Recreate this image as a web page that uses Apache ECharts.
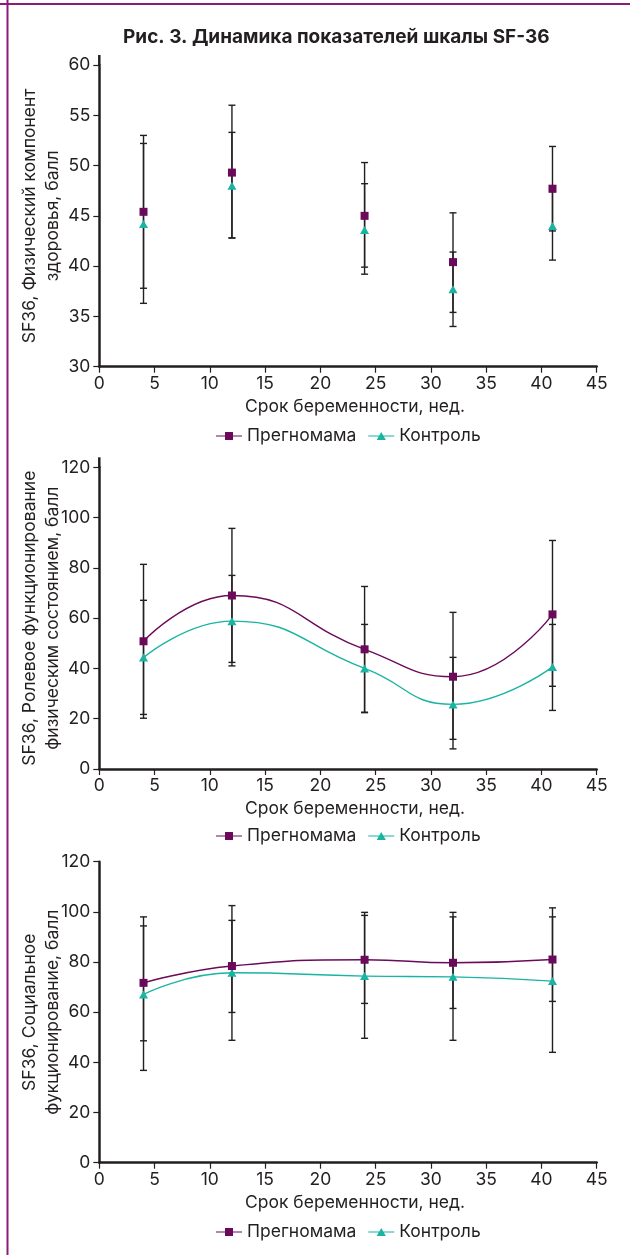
<!DOCTYPE html>
<html>
<head>
<meta charset="utf-8">
<script src="https://cdn.jsdelivr.net/npm/echarts@6/dist/echarts.min.js"></script>
<style>
html,body{margin:0;padding:0;background:#fff;}
#c{width:630px;height:1255px;}
</style>
</head>
<body>
<div id="c"></div>
<script>
// ---- data ----
const weeks = [4, 12, 24, 32, 41];
const xTicks = [0, 5, 10, 15, 20, 25, 30, 35, 40, 45];
const seriesNames = ['Прегномама', 'Контроль'];

// Chart 1: physical component
const pcPreg = [45.4, 49.3, 45.0, 40.4, 47.7];
const pcPregLow = [37.8, 42.8, 39.9, 35.4, 43.5];
const pcPregHigh = [53.0, 56.0, 50.3, 45.3, 51.9];
const pcCtrl = [44.2, 48.0, 43.6, 37.7, 44.0];
const pcCtrlLow = [36.3, 42.8, 39.2, 34.0, 40.6];
const pcCtrlHigh = [52.2, 53.3, 48.2, 41.4, 47.4];

// Chart 2: role physical
const rpPreg = [50.8, 69.0, 47.6, 36.7, 61.5];
const rpPregLow = [20.2, 42.4, 22.6, 11.8, 32.9];
const rpPregHigh = [81.4, 95.7, 72.6, 62.3, 90.9];
const rpCtrl = [44.3, 58.8, 40.0, 25.7, 40.6];
const rpCtrlLow = [21.7, 41.0, 22.4, 8.0, 23.3];
const rpCtrlHigh = [67.1, 77.0, 57.5, 44.4, 57.5];

// Chart 3: social functioning
const sfPreg = [71.7, 78.4, 80.9, 79.7, 81.0];
const sfPregLow = [48.6, 48.8, 49.6, 48.8, 44.0];
const sfPregHigh = [98.0, 102.5, 99.8, 99.8, 101.6];
const sfCtrl = [67.1, 75.7, 74.4, 74.1, 72.4];
const sfCtrlLow = [36.8, 59.9, 63.5, 61.5, 64.3];
const sfCtrlHigh = [94.4, 96.6, 98.6, 98.0, 98.0];

const titleText = 'Рис. 3. Динамика показателей шкалы SF-36';
const xName = 'Срок беременности, нед.';
const yNames = [
  'SF36, Физический компонент\nздоровья, балл',
  'SF36, Ролевое функционирование\nфизическим состоянием, балл',
  'SF36, Социальное\nфукционирование, балл'
];

// ---- style ----
const INK = '#231f20';
const PURPLE = '#6b0a5b';
const TEAL = '#19b4a2';
const FONT = 'Inter, "Liberation Sans", Arial, sans-serif';
const FS = 17.5;

const sqIcon = 'path://M0,4.4H26V5.6H0Z M9,1H17V9H9Z';
const triIcon = 'path://M0,4.4H26V5.6H0Z M13,1L17.6,9H8.4Z';

const grids = [
  {left: 99.3, top: 65, width: 497.4, height: 301.7, outerBoundsMode: 'none', containLabel: false},
  {left: 99.3, top: 467.3, width: 497.4, height: 301.7, outerBoundsMode: 'none', containLabel: false},
  {left: 99.3, top: 861.7, width: 497.4, height: 301, outerBoundsMode: 'none', containLabel: false}
];
const yRanges = [[30, 60, 5], [0, 120, 20], [0, 120, 20]];
const axisOverhang = [10, 10, 0];

function zip(xs, a) { return xs.map((x, i) => [x, a[i]]); }
function zip3(xs, a, b) { return xs.map((x, i) => [x, a[i], b[i]]); }

const xAxes = grids.map((g, i) => ({
  type: 'value', gridIndex: i, min: xTicks[0], max: xTicks[xTicks.length - 1], interval: 5,
  name: xName, nameLocation: 'middle', nameGap: 31, nameMoveOverlap: false,
  nameTextStyle: {fontFamily: FONT, fontSize: FS, color: INK, padding: [0, 0, 0, 14]},
  axisLine: {lineStyle: {color: INK, width: 2.5}},
  axisTick: {inside: false, length: 6, lineStyle: {color: INK, width: 1.2}},
  axisLabel: {fontFamily: FONT, fontSize: FS, color: INK, margin: 8},
  splitLine: {show: false}
}));
const yAxes = grids.map((g, i) => ({
  type: 'value', gridIndex: i, min: yRanges[i][0], max: yRanges[i][1], interval: yRanges[i][2],
  name: yNames[i], nameLocation: 'middle', nameGap: 35, nameRotate: 90, nameMoveOverlap: false,
  nameTextStyle: {fontFamily: FONT, fontSize: FS, color: INK, lineHeight: 23, align: 'center'},
  axisLine: {lineStyle: {color: INK, width: 2.5}},
  axisTick: {inside: false, length: 6, lineStyle: {color: INK, width: 1.2}},
  axisLabel: {fontFamily: FONT, fontSize: FS, color: INK, margin: 9},
  splitLine: {show: false}
}));

function errRender(params, api) {
  const x = api.value(0);
  const p1 = api.coord([x, api.value(1)]);
  const p2 = api.coord([x, api.value(2)]);
  const hw = 3.5;
  const st = {stroke: INK, lineWidth: 1.4};
  return {type: 'group', children: [
    {type: 'line', shape: {x1: p1[0], y1: p1[1], x2: p2[0], y2: p2[1]}, style: st},
    {type: 'line', shape: {x1: p1[0] - hw, y1: p1[1], x2: p1[0] + hw, y2: p1[1]}, style: st},
    {type: 'line', shape: {x1: p2[0] - hw, y1: p2[1], x2: p2[0] + hw, y2: p2[1]}, style: st}
  ]};
}

const sets = [
  {p: pcPreg, pl: pcPregLow, ph: pcPregHigh, c: pcCtrl, cl: pcCtrlLow, ch: pcCtrlHigh, line: false},
  {p: rpPreg, pl: rpPregLow, ph: rpPregHigh, c: rpCtrl, cl: rpCtrlLow, ch: rpCtrlHigh, line: true},
  {p: sfPreg, pl: sfPregLow, ph: sfPregHigh, c: sfCtrl, cl: sfCtrlLow, ch: sfCtrlHigh, line: true}
];

const series = [];
sets.forEach((s, i) => {
  series.push({type: 'custom', name: 'err-p' + i, xAxisIndex: i, yAxisIndex: i, z: 1,
    renderItem: errRender, encode: {x: 0, y: [1, 2]}, data: zip3(weeks, s.pl, s.ph), silent: true});
  series.push({type: 'custom', name: 'err-c' + i, xAxisIndex: i, yAxisIndex: i, z: 1,
    renderItem: errRender, encode: {x: 0, y: [1, 2]}, data: zip3(weeks, s.cl, s.ch), silent: true});
  const common = {xAxisIndex: i, yAxisIndex: i, z: 3, animation: false};
  if (s.line) {
    series.push(Object.assign({type: 'line', name: seriesNames[1], data: zip(weeks, s.c), smooth: 0.5,
      symbol: 'triangle', symbolSize: [9, 8], itemStyle: {color: TEAL}, lineStyle: {color: TEAL, width: 1.4}}, common));
    series.push(Object.assign({type: 'line', name: seriesNames[0], data: zip(weeks, s.p), smooth: 0.5,
      symbol: 'rect', symbolSize: 8, itemStyle: {color: PURPLE}, lineStyle: {color: PURPLE, width: 1.4}}, common));
  } else {
    series.push(Object.assign({type: 'scatter', name: seriesNames[1], data: zip(weeks, s.c),
      symbol: 'triangle', symbolSize: [9, 8], itemStyle: {color: TEAL, opacity: 1}}, common));
    series.push(Object.assign({type: 'scatter', name: seriesNames[0], data: zip(weeks, s.p),
      symbol: 'rect', symbolSize: 8, itemStyle: {color: PURPLE, opacity: 1}}, common));
  }
});

const legendTops = [422, 822, 1218];
const legends = legendTops.map(t => ({
  top: t, left: 211, itemWidth: 26, itemHeight: 8, itemGap: 12, selectedMode: false,
  textStyle: {fontFamily: FONT, fontSize: FS, color: INK},
  data: [{name: seriesNames[0], icon: sqIcon}, {name: seriesNames[1], icon: triIcon}]
}));

// y-axis lines that continue a little above the top tick
const overhangs = grids.map((g, i) => ({
  type: 'line', z: 10,
  shape: {x1: g.left, y1: g.top - axisOverhang[i], x2: g.left, y2: g.top},
  style: {stroke: INK, lineWidth: 2.5},
  invisible: axisOverhang[i] === 0
}));

const chart = echarts.init(document.getElementById('c'), null, {renderer: 'canvas'});
chart.setOption({
  backgroundColor: '#fff',
  animation: false,
  title: {text: titleText, left: 118, top: 23,
    textStyle: {fontFamily: FONT, fontSize: 19, fontWeight: 'bold', color: INK}},
  grid: grids,
  xAxis: xAxes,
  yAxis: yAxes,
  legend: legends,
  series: series,
  graphic: [
    {type: 'line', shape: {x1: 0, y1: 4, x2: 630, y2: 4}, style: {stroke: '#8a1c7c', lineWidth: 2}},
    {type: 'line', shape: {x1: 7.5, y1: 0, x2: 7.5, y2: 1255}, style: {stroke: '#8a1c7c', lineWidth: 2}}
  ].concat(overhangs)
});
</script>
</body>
</html>
